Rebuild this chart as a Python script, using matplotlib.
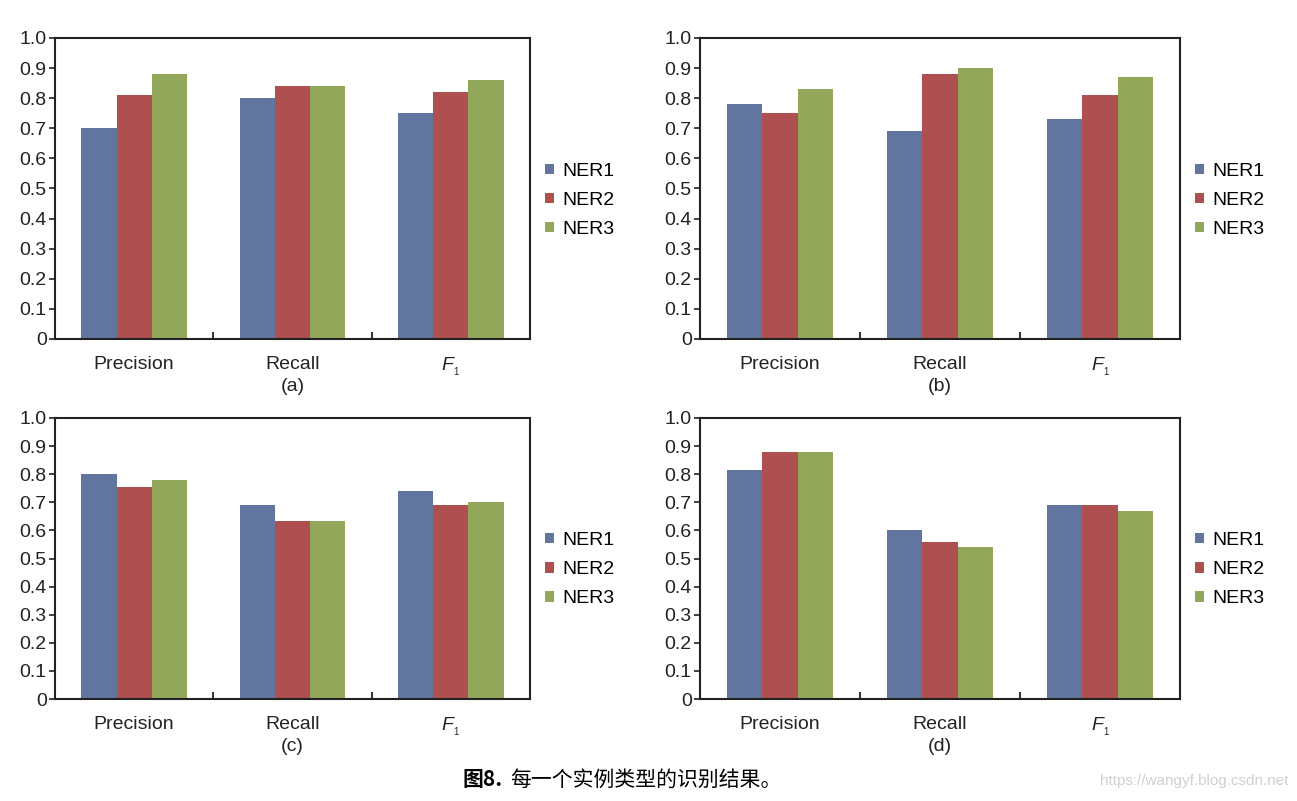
import numpy as np
import matplotlib.pyplot as plt

plt.rcParams['font.family'] = ['Liberation Sans', 'Noto Sans CJK SC', 'DejaVu Sans']
plt.rcParams['mathtext.fontset'] = 'custom'
plt.rcParams['mathtext.rm'] = 'Liberation Sans'
plt.rcParams['mathtext.it'] = 'Liberation Sans:italic'

categories = ['Precision', 'Recall', r'$F_{_1}$']
series = ['NER1', 'NER2', 'NER3']
colors = ['#61759f', '#af5050', '#93a75b']

# values per panel: rows = NER1..NER3, cols = Precision, Recall, F1
panel_a = [[0.70, 0.80, 0.75],
           [0.81, 0.84, 0.82],
           [0.88, 0.84, 0.86]]
panel_b = [[0.78, 0.69, 0.73],
           [0.75, 0.88, 0.81],
           [0.83, 0.90, 0.87]]
panel_c = [[0.80, 0.69, 0.74],
           [0.755, 0.635, 0.69],
           [0.78, 0.635, 0.70]]
panel_d = [[0.815, 0.60, 0.69],
           [0.88, 0.56, 0.69],
           [0.88, 0.54, 0.67]]
panel_tags = ['(a)', '(b)', '(c)', '(d)']
yticks = [0, 0.1, 0.2, 0.3, 0.4, 0.5, 0.6, 0.7, 0.8, 0.9, 1.0]
ytick_labels = ['0', '0.1', '0.2', '0.3', '0.4', '0.5', '0.6', '0.7', '0.8', '0.9', '1.0']

fig = plt.figure(figsize=(12.97, 8.01), dpi=100)
W, H = 1297, 801
# axes boxes in pixels: left, top, right, bottom
boxes = [(55, 38, 530, 339), (700, 38, 1180, 339),
         (55, 418, 530, 699), (700, 418, 1180, 699)]

x = np.arange(len(categories))
bw = 0.222
ink = '#222222'

for data, tag, (l, t, r, b) in zip([panel_a, panel_b, panel_c, panel_d], panel_tags, boxes):
    ax = fig.add_axes([l / W, 1 - b / H, (r - l) / W, (b - t) / H])
    for i, name in enumerate(series):
        ax.bar(x + (i - 1) * bw, data[i], width=bw, color=colors[i], label=name)
    ax.set_xlim(-0.5, 2.5)
    ax.set_ylim(0, 1.0)
    ax.set_yticks(yticks)
    ax.set_yticklabels(ytick_labels)
    ax.set_xticks(x)
    ax.set_xticklabels(categories)
    ax.set_xticks([0.5, 1.5], minor=True)
    ax.tick_params(axis='x', which='major', length=0, labelsize=14, pad=12, colors=ink)
    ax.tick_params(axis='x', which='minor', direction='in', length=5, width=1.3, color=ink)
    ax.tick_params(axis='y', direction='out', length=4, width=1.2, labelsize=14, pad=2, colors=ink)
    for s in ax.spines.values():
        s.set_linewidth(1.5)
        s.set_color(ink)
    ax.set_xlabel(tag, fontsize=14, labelpad=0, color=ink)
    ax.legend(loc='center left', bbox_to_anchor=(0.995, 0.46), frameon=False, fontsize=14,
              handlelength=0.45, handleheight=0.45, handletextpad=0.45, labelspacing=0.62)

fig.text(503 / W, 1 - 780 / H, '图8.', fontsize=15, fontweight='bold', ha='right', va='center',
         family=['Noto Sans CJK SC', 'DejaVu Sans'])
fig.text(510 / W, 1 - 780 / H, '每一个实例类型的识别结果。', fontsize=15, ha='left', va='center',
         family=['Noto Sans CJK SC', 'DejaVu Sans'])
fig.text(1288 / W, 1 - 781 / H, 'https://wangyf.blog.csdn.net', fontsize=11, ha='right', va='center',
         color='#d0d0d0')

plt.savefig('out.png', dpi=100)
